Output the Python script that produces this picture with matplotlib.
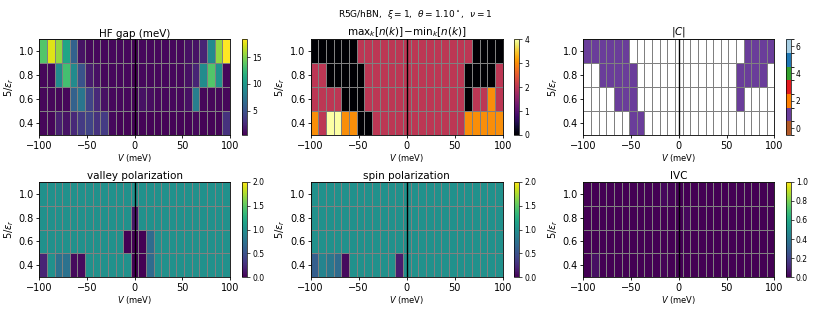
import numpy as np
import matplotlib
matplotlib.use("Agg")
import matplotlib.pyplot as plt
from matplotlib.colors import ListedColormap, BoundaryNorm, Normalize

# ---- data ----
V = [-96, -88, -80, -72, -64, -56, -48, -40, -32, -24, -16, -8, 0,
     8, 16, 24, 32, 40, 48, 56, 64, 72, 80, 88, 96]
eps = [0.4, 0.6, 0.8, 1.0]

hf_gap = [
    [0.7, 0.7, 2.0, 1.3, 2.5, 3.5, 4.0, 3.0, 3.5, 0.8, 0.6, 0.6, 0.5, 0.6, 0.6, 0.6, 0.6, 0.6, 0.6, 0.6, 0.8, 0.6, 0.6, 0.6, 3.0],
    [0.7, 0.7, 0.7, 0.7, 6.0, 7.5, 4.0, 2.5, 1.2, 0.8, 0.8, 0.8, 0.5, 1.2, 1.0, 0.8, 0.8, 0.8, 0.8, 1.2, 8.0, 0.7, 0.7, 0.7, 0.7],
    [0.7, 0.7, 9.0, 13.0, 9.0, 5.0, 1.8, 1.2, 0.8, 0.8, 0.8, 0.8, 0.4, 0.8, 0.8, 0.8, 0.8, 0.8, 0.8, 1.2, 2.2, 9.0, 13.5, 9.5, 0.7],
    [13.5, 17.5, 15.5, 11.0, 6.0, 1.3, 0.8, 0.8, 0.8, 0.8, 0.8, 0.8, 0.6, 0.8, 0.8, 0.8, 0.8, 0.8, 0.8, 1.2, 1.3, 2.2, 9.0, 15.5, 18.4],
]

dn = [
    [3, 2, 4, 4, 3, 3, 0, 0, 2, 2, 2, 2, 2, 2, 2, 2, 2, 2, 2, 2, 3, 3, 3, 3, 3],
    [2, 2, 2, 2, 0, 0, 0, 2, 2, 2, 2, 2, 2, 2, 2, 2, 2, 2, 2, 2, 0, 2, 2, 3, 2],
    [2, 2, 0, 0, 0, 0, 0, 2, 2, 2, 2, 2, 2, 2, 2, 2, 2, 2, 2, 2, 0, 0, 0, 0, 2],
    [0, 0, 0, 0, 0, 0, 2, 2, 2, 2, 2, 2, 2, 2, 2, 2, 2, 2, 2, 2, 2, 0, 0, 0, 0],
]

n = np.nan
chern = [
    [n, n, n, n, n, n, 1, 1, n, n, n, n, n, n, n, n, n, n, n, n, n, n, n, n, n],
    [n, n, n, n, 1, 1, 1, n, n, n, n, n, n, n, n, n, n, n, n, n, 1, n, n, n, n],
    [n, n, 1, 1, 1, 1, 1, n, n, n, n, n, n, n, n, n, n, n, n, n, 1, 1, 1, 1, n],
    [1, 1, 1, 1, 1, 1, n, n, n, n, n, n, n, n, n, n, n, n, n, n, n, 1, 1, 1, 1],
]

valley = [
    [0.2, 1.0, 0.75, 0.75, 0.05, 0.05, 1.0, 1.0, 1.0, 1.0, 1.0, 1.0, 0.0, 0.0, 0.7, 1.0, 1.0, 1.0, 1.0, 1.0, 1.0, 1.0, 1.0, 1.0, 1.0],
    [1.0, 1.0, 1.0, 1.0, 1.0, 1.0, 1.0, 1.0, 1.0, 1.0, 1.0, 0.0, 0.0, 0.0, 0.7, 1.0, 1.0, 1.0, 1.0, 1.0, 1.0, 1.0, 1.0, 1.0, 1.0],
    [1.0, 1.0, 1.0, 1.0, 1.0, 1.0, 1.0, 1.0, 1.0, 1.0, 1.0, 1.0, 0.12, 1.0, 1.0, 1.0, 1.0, 1.0, 1.0, 1.0, 1.0, 1.0, 1.0, 1.0, 1.0],
    [1.0, 1.0, 1.0, 1.0, 1.0, 1.0, 1.0, 1.0, 1.0, 1.0, 1.0, 1.0, 1.0, 1.0, 1.0, 1.0, 1.0, 1.0, 1.0, 1.0, 1.0, 1.0, 1.0, 1.0, 1.0],
]

spin = [
    [0.6, 0.9, 0.8, 0.7, 0.05, 1.0, 1.0, 1.0, 1.0, 1.0, 1.0, 0.15, 1.0, 1.0, 1.0, 1.0, 1.0, 1.0, 1.0, 1.0, 1.0, 1.0, 1.0, 1.0, 1.0],
    [1.0] * 25,
    [1.0] * 25,
    [1.0] * 25,
]

ivc = [
    [0.0, 0.04, 0.0, 0.0, 0.0, 0.0, 0.0, 0.0, 0.0, 0.0, 0.01, 0.0, 0.0, 0.0, 0.0, 0.0, 0.0, 0.0, 0.0, 0.0, 0.0, 0.0, 0.0, 0.0, 0.0],
    [0.0, 0.0, 0.0, 0.0, 0.0, 0.0, 0.0, 0.0, 0.0, 0.0, 0.0, 0.0, 0.0, 0.0, 0.0, 0.0, 0.0, 0.0, 0.0, 0.0, 0.0, 0.0, 0.0, 0.0, 0.0],
    [0.0, 0.0, 0.0, 0.0, 0.0, 0.0, 0.0, 0.0, 0.0, 0.0, 0.0, 0.0, 0.0, 0.02, 0.0, 0.0, 0.0, 0.0, 0.0, 0.0, 0.0, 0.0, 0.0, 0.0, 0.0],
    [0.0, 0.0, 0.0, 0.0, 0.0, 0.0, 0.0, 0.0, 0.0, 0.0, 0.02, 0.01, 0.0, 0.0, 0.0, 0.0, 0.0, 0.0, 0.0, 0.0, 0.0, 0.0, 0.0, 0.0, 0.0],
]

chern_colors = ["#b15928", "#6a3d9a", "#ff7f00", "#e31a1c", "#33a02c", "#1f78b4", "#a6cee3"]

# ---- figure ----
W, H = 830, 312
fig = plt.figure(figsize=(W / 100, H / 100), dpi=100)

cols_x = [39.3, 310.7, 583.3]
cols_w = [190.5, 192.0, 191.0]
cb_x = [242.3, 514.3, 786.0]
rows_y = [(39.3, 135.0), (181.7, 277.3)]

def ax_rect(x, y0, w, y1):
    return [x / W, 1 - y1 / H, w / W, (y1 - y0) / H]

panels = [
    ("HF gap (meV)", hf_gap, "viridis", Normalize(min(map(min, hf_gap)), max(map(max, hf_gap))), [5, 10, 15]),
    (r"$\mathrm{max}_k[n(k)]\!-\!\mathrm{min}_k[n(k)]$", dn, "inferno", Normalize(0, 4), [0, 1, 2, 3, 4]),
    (r"$|C|$", chern, ListedColormap(chern_colors), BoundaryNorm(np.arange(-0.5, 7.5, 1), 7), [0, 2, 4, 6]),
    ("valley polarization", valley, "viridis", Normalize(0, 2), [0.0, 0.5, 1.0, 1.5, 2.0]),
    ("spin polarization", spin, "viridis", Normalize(0, 2), [0.0, 0.5, 1.0, 1.5, 2.0]),
    ("IVC", ivc, "viridis", Normalize(0, 1), [0.0, 0.2, 0.4, 0.6, 0.8, 1.0]),
]

for k, (title, data, cmap, norm, cticks) in enumerate(panels):
    r, c = divmod(k, 3)
    y0, y1 = rows_y[r]
    ax = fig.add_axes(ax_rect(cols_x[c], y0, cols_w[c], y1))
    cax = fig.add_axes(ax_rect(cb_x[c], y0, 5.0, y1))
    Z = np.ma.masked_invalid(np.array(data, dtype=float))
    mesh = ax.pcolormesh(V, eps, Z, cmap=cmap, norm=norm, shading="nearest",
                         edgecolors="gray", linewidth=0.6)
    ax.axvline(0, color="black", lw=1.0)
    ax.set_xlim(-100, 100)
    ax.set_ylim(0.3, 1.1)
    ax.set_xticks([-100, -50, 0, 50, 100])
    ax.set_yticks([0.4, 0.6, 0.8, 1.0])
    ax.tick_params(labelsize=7, length=2.5, width=0.6, pad=1.5)
    ax.set_title(title, fontsize=7.5, pad=2)
    ax.set_xlabel(r"$V$ (meV)", fontsize=6, labelpad=1)
    ax.set_ylabel(r"$5/\epsilon_r$", fontsize=7, labelpad=2)
    for s in ax.spines.values():
        s.set_linewidth(0.6)
    cb = fig.colorbar(mesh, cax=cax)
    cb.set_ticks(cticks)
    cb.ax.tick_params(labelsize=5.5, length=2, width=0.5, pad=1.5)
    cb.outline.set_linewidth(0.5)

fig.suptitle(r"R5G/hBN,  $\xi=1$,  $\theta=1.10^\circ$,  $\nu=1$", fontsize=6.5, y=0.975)

fig.savefig("out.png", dpi=100)
